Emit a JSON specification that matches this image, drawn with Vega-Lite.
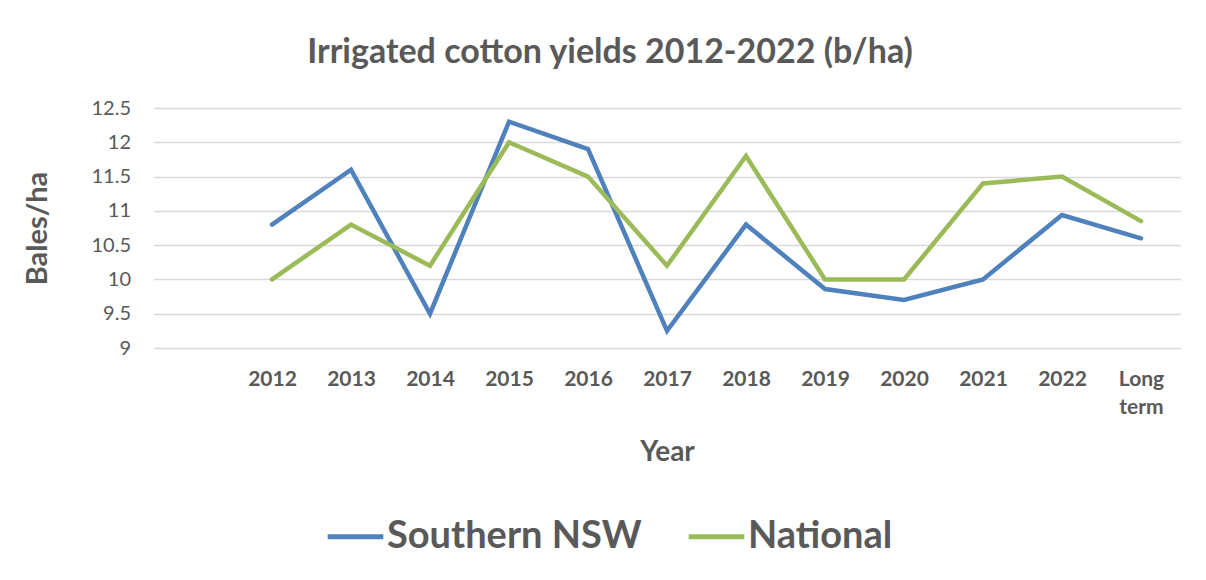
{
  "$schema": "https://vega.github.io/schema/vega-lite/v6.json",
  "width": 1027,
  "height": 240,
  "autosize": {"type": "none"},
  "padding": {"left": 153.5, "top": 108, "right": 25.5, "bottom": 232},
  "background": "white",
  "config": {
    "view": {"stroke": null},
    "font": "Lato"
  },
  "title": {
    "text": "Irrigated cotton yields 2012-2022 (b/ha)",
    "fontSize": 34,
    "fontWeight": "bold",
    "color": "#595959",
    "font": "Lato",
    "anchor": "middle",
    "dx": -57,
    "offset": 28
  },
  "data": {
    "values": [
      {"year": "2012", "series": "Southern NSW", "value": 10.8},
      {"year": "2013", "series": "Southern NSW", "value": 11.6},
      {"year": "2014", "series": "Southern NSW", "value": 9.5},
      {"year": "2015", "series": "Southern NSW", "value": 12.3},
      {"year": "2016", "series": "Southern NSW", "value": 11.9},
      {"year": "2017", "series": "Southern NSW", "value": 9.25},
      {"year": "2018", "series": "Southern NSW", "value": 10.8},
      {"year": "2019", "series": "Southern NSW", "value": 9.86},
      {"year": "2020", "series": "Southern NSW", "value": 9.7},
      {"year": "2021", "series": "Southern NSW", "value": 10.0},
      {"year": "2022", "series": "Southern NSW", "value": 10.94},
      {"year": "Long term", "series": "Southern NSW", "value": 10.6},
      {"year": "2012", "series": "National", "value": 10.0},
      {"year": "2013", "series": "National", "value": 10.8},
      {"year": "2014", "series": "National", "value": 10.2},
      {"year": "2015", "series": "National", "value": 12.0},
      {"year": "2016", "series": "National", "value": 11.5},
      {"year": "2017", "series": "National", "value": 10.2},
      {"year": "2018", "series": "National", "value": 11.8},
      {"year": "2019", "series": "National", "value": 10.0},
      {"year": "2020", "series": "National", "value": 10.0},
      {"year": "2021", "series": "National", "value": 11.4},
      {"year": "2022", "series": "National", "value": 11.5},
      {"year": "Long term", "series": "National", "value": 10.85}
    ]
  },
  "mark": {"type": "line", "strokeWidth": 4.5, "strokeCap": "round", "strokeJoin": "miter"},
  "encoding": {
    "x": {
      "field": "year",
      "type": "ordinal",
      "sort": null,
      "scale": {
        "type": "point",
        "padding": 0.5,
        "domain": [" ", "2012", "2013", "2014", "2015", "2016", "2017", "2018", "2019", "2020", "2021", "2022", "Long term"]
      },
      "axis": {
        "title": "Year",
        "titleFontSize": 28,
        "titleFontWeight": "bold",
        "titleColor": "#595959",
        "titleY": 112,
        "titleBaseline": "alphabetic",
        "labelAngle": 0,
        "labelFontSize": 21,
        "labelFontWeight": "bold",
        "labelColor": "#595959",
        "labelPadding": 20,
        "labelLineHeight": 28,
        "labelExpr": "datum.value == 'Long term' ? ['Long', 'term'] : datum.value",
        "ticks": false,
        "domain": false,
        "grid": false
      }
    },
    "y": {
      "field": "value",
      "type": "quantitative",
      "scale": {"domain": [9, 12.5], "zero": false, "nice": false},
      "axis": {
        "title": "Bales/ha",
        "titleFontSize": 29,
        "titleFontWeight": "bold",
        "titleColor": "#595959",
        "titleX": -116,
        "titleY": 120,
        "titleAngle": -90,
        "titleAlign": "center",
        "titleBaseline": "middle",
        "values": [9, 9.5, 10, 10.5, 11, 11.5, 12, 12.5],
        "format": "~g",
        "labelFontSize": 20,
        "labelColor": "#595959",
        "labelPadding": 23,
        "ticks": false,
        "domain": false,
        "grid": true,
        "gridColor": "#d9d9d9",
        "gridWidth": 1.5
      }
    },
    "color": {
      "field": "series",
      "type": "nominal",
      "scale": {"domain": ["Southern NSW", "National"], "range": ["#4F81BD", "#9BBB59"]},
      "legend": {
        "title": null,
        "orient": "none",
        "direction": "horizontal",
        "legendX": 171.5,
        "legendY": 398,
        "symbolType": "stroke",
        "symbolSize": 3100,
        "symbolStrokeWidth": 5,
        "labelFontSize": 38,
        "labelFontWeight": "bold",
        "labelColor": "#595959",
        "labelFont": "Lato",
        "labelLimit": 0,
        "labelOffset": 1,
        "columnPadding": 36
      }
    }
  }
}
